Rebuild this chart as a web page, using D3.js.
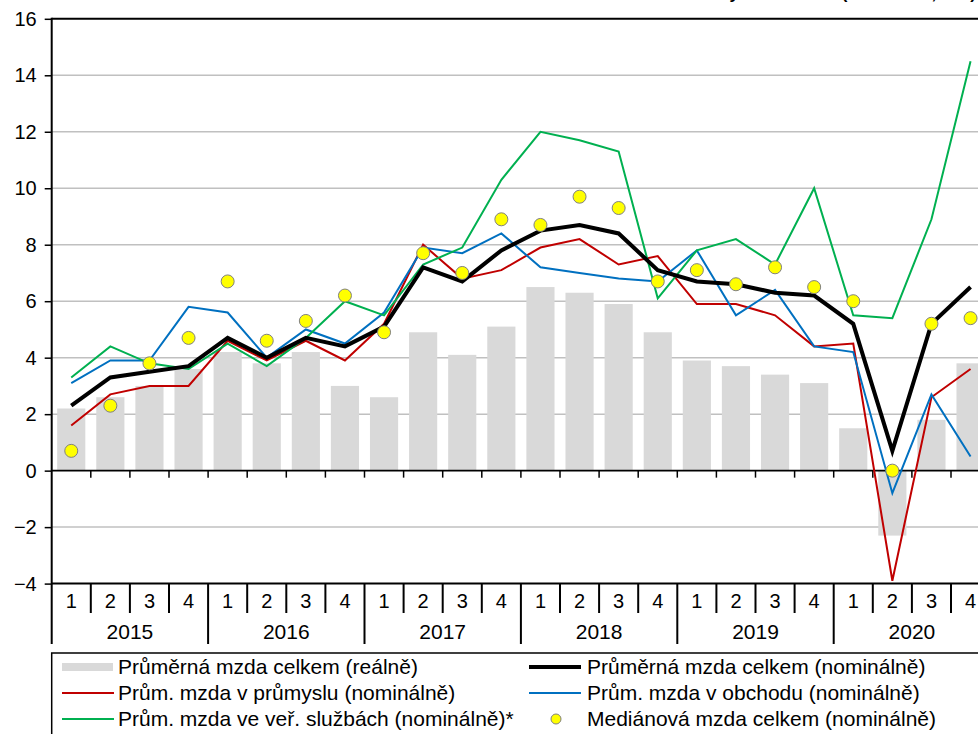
<!DOCTYPE html>
<html>
<head>
<meta charset="utf-8">
<script src="https://cdn.jsdelivr.net/npm/d3@7"></script>
<style>
  body { margin: 0; background: #fff; }
  svg { display: block; font-family: "Liberation Sans", Arial, sans-serif; }
</style>
</head>
<body>
<svg width="978" height="734"></svg>
<script>
// categories
const years = ["2015", "2016", "2017", "2018", "2019", "2020"];
const quarters = ["1", "2", "3", "4"];

// series (y/y change, %)
const realAvg   = [2.2, 2.6, 3.0, 3.6, 4.2, 3.8, 4.2, 3.0, 2.6, 4.9, 4.1, 5.1, 6.5, 6.3, 5.9, 4.9, 3.9, 3.7, 3.4, 3.1, 1.5, -2.3, 1.8, 3.8];
const nominalAvg = [2.3, 3.3, 3.5, 3.7, 4.7, 4.0, 4.7, 4.4, 5.1, 7.2, 6.7, 7.8, 8.5, 8.7, 8.4, 7.1, 6.7, 6.6, 6.3, 6.2, 5.2, 0.7, 5.2, 6.5];
const industry  = [1.6, 2.7, 3.0, 3.0, 4.6, 3.9, 4.6, 3.9, 5.2, 8.0, 6.8, 7.1, 7.9, 8.2, 7.3, 7.6, 5.9, 5.9, 5.5, 4.4, 4.5, -3.9, 2.6, 3.6];
const trade     = [3.1, 3.9, 3.9, 5.8, 5.6, 4.0, 5.0, 4.5, 5.6, 7.9, 7.7, 8.4, 7.2, 7.0, 6.8, 6.7, 7.8, 5.5, 6.4, 4.4, 4.2, -0.8, 2.7, 0.5];
const services  = [3.3, 4.4, 3.8, 3.6, 4.5, 3.7, 4.7, 6.0, 5.5, 7.3, 7.9, 10.3, 12.0, 11.7, 11.3, 6.1, 7.8, 8.2, 7.3, 10.0, 5.5, 5.4, 8.9, 14.5];
const median    = [0.7, 2.3, 3.8, 4.7, 6.7, 4.6, 5.3, 6.2, 4.9, 7.7, 7.0, 8.9, 8.7, 9.7, 9.3, 6.7, 7.1, 6.6, 7.2, 6.5, 6.0, 0.0, 5.2, 5.4];
const yTicks = [-4, -2, 0, 2, 4, 6, 8, 10, 12, 14, 16];

const cats = years.flatMap(y => quarters.map(q => ({ year: y, q: q })));
const idx = d3.range(cats.length);

const svg = d3.select("svg");
const left = 51.7, step = 39.1;

const x = d3.scaleBand()
    .domain(idx)
    .range([left, left + step * cats.length])
    .paddingInner(0.28)
    .paddingOuter(0.14);
const y = d3.scaleLinear().domain([-4, 16]).range([583.6, 18.8]);
const cx = i => x(i) + x.bandwidth() / 2;

// title (mostly above the visible area, as in the source image)
svg.append("text")
    .attr("x", 976).attr("y", -1)
    .attr("text-anchor", "end")
    .style("font-size", "17px").style("font-weight", "bold")
    .text("Meziroční změna mzdy v odvětvích (meziročně, v %)");

// gridlines
svg.append("g")
  .selectAll("line")
  .data(yTicks.filter(t => t !== 0 && t !== -4 && t !== 16))
  .join("line")
    .attr("x1", left).attr("x2", 1000)
    .attr("y1", d => y(d)).attr("y2", d => y(d))
    .attr("stroke", "#c0c0c0").attr("stroke-width", 1.5);

// bars
svg.append("g")
  .selectAll("rect")
  .data(realAvg)
  .join("rect")
    .attr("x", (d, i) => x(i))
    .attr("width", x.bandwidth())
    .attr("y", d => y(Math.max(0, d)))
    .attr("height", d => Math.abs(y(d) - y(0)))
    .attr("fill", "#d9d9d9");

// top border, zero line, bottom line
[16, 0, -4].forEach(v => {
  svg.append("line")
      .attr("x1", left).attr("x2", 1000)
      .attr("y1", y(v)).attr("y2", y(v))
      .attr("stroke", "#000").attr("stroke-width", v === 0 ? 1.8 : 2);
});

// ticks on zero line
svg.append("g")
  .selectAll("line")
  .data(d3.range(1, cats.length + 1))
  .join("line")
    .attr("x1", i => left + step * i).attr("x2", i => left + step * i)
    .attr("y1", y(0)).attr("y2", y(0) + 7)
    .attr("stroke", "#000").attr("stroke-width", 1.5);

// y axis
const yAxis = svg.append("g")
    .attr("transform", `translate(${left},0)`)
    .call(d3.axisLeft(y).tickValues(yTicks).tickSize(7).tickPadding(8).tickFormat(d3.format("d")));
yAxis.select(".domain").remove();
yAxis.selectAll(".tick line").attr("stroke", "#000").attr("stroke-width", 1.5);
yAxis.selectAll(".tick text")
    .style("font-size", "20px").style("font-family", "Liberation Sans, Arial, sans-serif")
    .attr("fill", "#000");

svg.append("line")
    .attr("x1", left).attr("x2", left)
    .attr("y1", y(16) - 1).attr("y2", 644)
    .attr("stroke", "#000").attr("stroke-width", 2);

// category table
const tableTop = y(-4);
svg.append("g")
  .selectAll("line")
  .data(d3.range(1, cats.length + 1))
  .join("line")
    .attr("x1", i => left + step * i).attr("x2", i => left + step * i)
    .attr("y1", tableTop)
    .attr("y2", i => i % 4 === 0 ? 644 : 613)
    .attr("stroke", "#000").attr("stroke-width", 2);

svg.append("g")
  .selectAll("text")
  .data(cats)
  .join("text")
    .attr("x", (d, i) => cx(i))
    .attr("y", 607.5)
    .attr("text-anchor", "middle")
    .style("font-size", "20px")
    .text(d => d.q);

svg.append("g")
  .selectAll("text")
  .data(years)
  .join("text")
    .attr("x", (d, i) => left + step * (i * 4 + 2))
    .attr("y", 638.5)
    .attr("text-anchor", "middle")
    .style("font-size", "21px")
    .text(d => d);

// lines
const line = d3.line().x((d, i) => cx(i)).y(d => y(d));
const series = [
  { values: industry, color: "#c00000", width: 2 },
  { values: trade, color: "#0070c0", width: 2 },
  { values: services, color: "#00b050", width: 2 },
  { values: nominalAvg, color: "#000000", width: 4 }
];
svg.append("g")
  .selectAll("path")
  .data(series)
  .join("path")
    .attr("d", d => line(d.values))
    .attr("fill", "none")
    .attr("stroke", d => d.color)
    .attr("stroke-width", d => d.width)
    .attr("stroke-linejoin", "miter");

// median dots
svg.append("g")
  .selectAll("circle")
  .data(median)
  .join("circle")
    .attr("cx", (d, i) => cx(i))
    .attr("cy", d => y(d))
    .attr("r", 6.5)
    .attr("fill", "#ffff00")
    .attr("stroke", "#808080")
    .attr("stroke-width", 1);

// legend
svg.append("rect")
    .attr("x", left).attr("y", 653)
    .attr("width", 1000).attr("height", 200)
    .attr("fill", "none").attr("stroke", "#000").attr("stroke-width", 1.5);

const legendItems = [
  { label: "Průměrná mzda celkem (reálně)", type: "bar", col: 0, row: 0 },
  { label: "Průměrná mzda celkem (nominálně)", type: "line", color: "#000", width: 4, col: 1, row: 0 },
  { label: "Prům. mzda v průmyslu (nominálně)", type: "line", color: "#c00000", width: 2, col: 0, row: 1 },
  { label: "Prům. mzda v obchodu (nominálně)", type: "line", color: "#0070c0", width: 2, col: 1, row: 1 },
  { label: "Prům. mzda ve veř. službách (nominálně)*", type: "line", color: "#00b050", width: 2, col: 0, row: 2 },
  { label: "Mediánová mzda celkem (nominálně)", type: "dot", col: 1, row: 2 }
];
const colX = [62, 529], rowY = [667, 693, 719];
const lg = svg.append("g")
  .selectAll("g")
  .data(legendItems)
  .join("g")
    .attr("transform", d => `translate(${colX[d.col]},${rowY[d.row]})`);
lg.filter(d => d.type === "bar").append("rect")
    .attr("x", 0).attr("y", -4).attr("width", 51).attr("height", 8).attr("fill", "#d9d9d9");
lg.filter(d => d.type === "line").append("line")
    .attr("x1", 0).attr("x2", 52).attr("y1", 0).attr("y2", 0)
    .attr("stroke", d => d.color).attr("stroke-width", d => d.width);
lg.filter(d => d.type === "dot").append("circle")
    .attr("cx", 27).attr("cy", 0).attr("r", 5)
    .attr("fill", "#ffff00").attr("stroke", "#808080").attr("stroke-width", 1);
lg.append("text")
    .attr("x", d => d.col === 0 ? 56 : 58)
    .attr("y", 7)
    .style("font-size", "21px")
    .text(d => d.label);
</script>
</body>
</html>
